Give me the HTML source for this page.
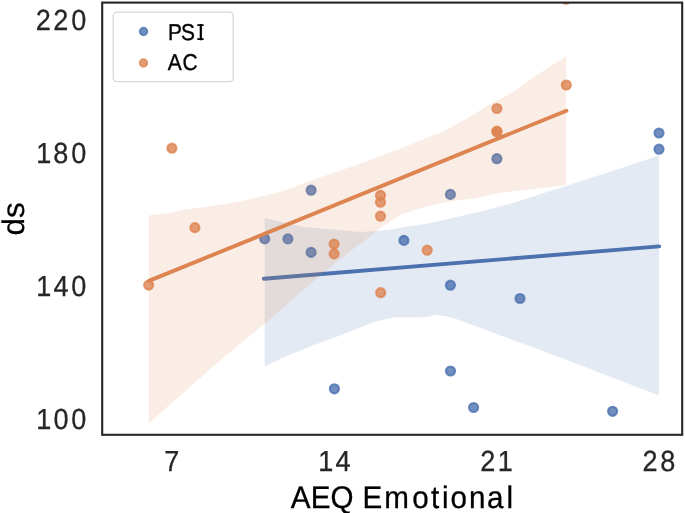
<!DOCTYPE html>
<html><head><meta charset="utf-8"><title>chart</title>
<style>
html,body{margin:0;padding:0;background:#fff;}
body{width:685px;height:513px;overflow:hidden;font-family:"Liberation Sans",sans-serif;}
svg{display:block;font-family:"Liberation Sans",sans-serif;will-change:transform;transform:translateZ(0);}
text{text-rendering:geometricPrecision;}
</style></head><body>
<svg width="685" height="513" viewBox="0 0 685 513">
<rect width="685" height="513" fill="#fff"/>
<defs><clipPath id="ax"><rect x="102.2" y="2.6" width="580" height="432.2"/></clipPath></defs>
<g clip-path="url(#ax)">
<circle cx="264.7" cy="238.9" r="4.55" fill="#4c72b0" fill-opacity=".8" stroke="#4c72b0" stroke-opacity=".8" stroke-width="2.1"/>
<circle cx="287.9" cy="238.9" r="4.55" fill="#4c72b0" fill-opacity=".8" stroke="#4c72b0" stroke-opacity=".8" stroke-width="2.1"/>
<circle cx="311.1" cy="190.2" r="4.55" fill="#4c72b0" fill-opacity=".8" stroke="#4c72b0" stroke-opacity=".8" stroke-width="2.1"/>
<circle cx="311.1" cy="252.4" r="4.55" fill="#4c72b0" fill-opacity=".8" stroke="#4c72b0" stroke-opacity=".8" stroke-width="2.1"/>
<circle cx="334.4" cy="388.8" r="4.55" fill="#4c72b0" fill-opacity=".8" stroke="#4c72b0" stroke-opacity=".8" stroke-width="2.1"/>
<circle cx="403.9" cy="240.4" r="4.55" fill="#4c72b0" fill-opacity=".8" stroke="#4c72b0" stroke-opacity=".8" stroke-width="2.1"/>
<circle cx="450.4" cy="194.4" r="4.55" fill="#4c72b0" fill-opacity=".8" stroke="#4c72b0" stroke-opacity=".8" stroke-width="2.1"/>
<circle cx="450.4" cy="285.2" r="4.55" fill="#4c72b0" fill-opacity=".8" stroke="#4c72b0" stroke-opacity=".8" stroke-width="2.1"/>
<circle cx="450.5" cy="371.0" r="4.55" fill="#4c72b0" fill-opacity=".8" stroke="#4c72b0" stroke-opacity=".8" stroke-width="2.1"/>
<circle cx="473.6" cy="407.5" r="4.55" fill="#4c72b0" fill-opacity=".8" stroke="#4c72b0" stroke-opacity=".8" stroke-width="2.1"/>
<circle cx="496.9" cy="158.7" r="4.55" fill="#4c72b0" fill-opacity=".8" stroke="#4c72b0" stroke-opacity=".8" stroke-width="2.1"/>
<circle cx="520.0" cy="298.5" r="4.55" fill="#4c72b0" fill-opacity=".8" stroke="#4c72b0" stroke-opacity=".8" stroke-width="2.1"/>
<circle cx="612.6" cy="411.3" r="4.55" fill="#4c72b0" fill-opacity=".8" stroke="#4c72b0" stroke-opacity=".8" stroke-width="2.1"/>
<circle cx="659.0" cy="133.0" r="4.55" fill="#4c72b0" fill-opacity=".8" stroke="#4c72b0" stroke-opacity=".8" stroke-width="2.1"/>
<circle cx="659.0" cy="149.2" r="4.55" fill="#4c72b0" fill-opacity=".8" stroke="#4c72b0" stroke-opacity=".8" stroke-width="2.1"/>
<line x1="263.8" y1="278.8" x2="659.2" y2="246.35" stroke="#4c72b0" stroke-width="3.9" stroke-linecap="round"/>
<polygon points="264.7,217.9 301.8,226.7 325.2,229.0 348.7,230.9 360.4,231.9 376.8,230.9 395.0,229.0 400.0,227.5 424.9,224.1 450.4,218.5 476.0,212.4 500.0,206.5 515.0,202.3 566.0,186.1 620.0,168.5 659.0,155.4 659.0,395.6 530.0,346.1 515.0,340.9 455.0,318.4 447.7,316.6 436.0,314.8 427.3,316.9 412.7,317.5 392.2,317.5 371.8,322.8 342.6,334.5 313.4,345.3 284.2,356.9 264.7,366.5" fill="#4c72b0" fill-opacity=".15"/>
<circle cx="148.7" cy="285.1" r="4.55" fill="#dd8452" fill-opacity=".8" stroke="#dd8452" stroke-opacity=".8" stroke-width="2.1"/>
<circle cx="171.9" cy="148.2" r="4.55" fill="#dd8452" fill-opacity=".8" stroke="#dd8452" stroke-opacity=".8" stroke-width="2.1"/>
<circle cx="194.9" cy="227.6" r="4.55" fill="#dd8452" fill-opacity=".8" stroke="#dd8452" stroke-opacity=".8" stroke-width="2.1"/>
<circle cx="334.1" cy="244.1" r="4.55" fill="#dd8452" fill-opacity=".8" stroke="#dd8452" stroke-opacity=".8" stroke-width="2.1"/>
<circle cx="334.1" cy="253.9" r="4.55" fill="#dd8452" fill-opacity=".8" stroke="#dd8452" stroke-opacity=".8" stroke-width="2.1"/>
<circle cx="380.5" cy="195.4" r="4.55" fill="#dd8452" fill-opacity=".8" stroke="#dd8452" stroke-opacity=".8" stroke-width="2.1"/>
<circle cx="380.5" cy="202.2" r="4.55" fill="#dd8452" fill-opacity=".8" stroke="#dd8452" stroke-opacity=".8" stroke-width="2.1"/>
<circle cx="380.5" cy="216.2" r="4.55" fill="#dd8452" fill-opacity=".8" stroke="#dd8452" stroke-opacity=".8" stroke-width="2.1"/>
<circle cx="380.7" cy="292.7" r="4.55" fill="#dd8452" fill-opacity=".8" stroke="#dd8452" stroke-opacity=".8" stroke-width="2.1"/>
<circle cx="427.2" cy="250.2" r="4.55" fill="#dd8452" fill-opacity=".8" stroke="#dd8452" stroke-opacity=".8" stroke-width="2.1"/>
<circle cx="496.9" cy="108.5" r="4.55" fill="#dd8452" fill-opacity=".8" stroke="#dd8452" stroke-opacity=".8" stroke-width="2.1"/>
<circle cx="496.9" cy="131.2" r="4.55" fill="#dd8452" fill-opacity=".8" stroke="#dd8452" stroke-opacity=".8" stroke-width="2.1"/>
<circle cx="496.9" cy="131.8" r="4.55" fill="#dd8452" fill-opacity=".8" stroke="#dd8452" stroke-opacity=".8" stroke-width="2.1"/>
<circle cx="566.3" cy="85.0" r="4.55" fill="#dd8452" fill-opacity=".8" stroke="#dd8452" stroke-opacity=".8" stroke-width="2.1"/>
<circle cx="566.2" cy="-0.8" r="4.55" fill="#dd8452" fill-opacity=".8" stroke="#dd8452" stroke-opacity=".8" stroke-width="2.1"/>
<line x1="149.0" y1="280.9" x2="566.4" y2="110.7" stroke="#dd8452" stroke-width="3.9" stroke-linecap="round"/>
<polygon points="148.7,215.6 170.7,212.7 180.9,210.2 201.3,207.6 221.8,204.5 242.2,201.0 262.6,196.3 280.0,191.9 309.9,181.1 359.9,163.7 409.8,144.9 420.0,140.6 443.4,131.2 466.8,118.4 490.2,104.3 513.6,91.5 537.0,75.1 560.4,59.9 566.2,56.0 566.2,185.3 515.0,191.1 500.0,193.1 476.0,198.1 450.4,201.4 424.9,206.7 400.0,215.0 395.0,218.3 376.5,231.0 372.0,234.9 348.7,252.5 325.2,271.2 301.8,291.1 278.4,312.2 265.5,323.2 225.8,355.6 182.9,393.2 148.7,423.2" fill="#dd8452" fill-opacity=".15"/>
</g>
<rect x="102.2" y="2.6" width="580" height="432.2" fill="none" stroke="#262626" stroke-width="2.1"/>
<!-- legend -->
<rect x="113.2" y="12.2" width="120.0" height="69.4" rx="3.5" ry="3.5" fill="#fff" fill-opacity=".8" stroke="#cccccc" stroke-opacity=".8" stroke-width="1.25"/>
<circle cx="143.5" cy="31.5" r="3.85" fill="#4c72b0" fill-opacity=".8" stroke="#4c72b0" stroke-opacity=".8" stroke-width="1.7"/>
<circle cx="143.5" cy="63.0" r="3.85" fill="#dd8452" fill-opacity=".8" stroke="#dd8452" stroke-opacity=".8" stroke-width="1.7"/>
<text id="y220" fill="#262626" stroke="#262626" stroke-width=".3" font-size="29.0" transform="translate(0,29.9) scale(0.9331,1)" x="38.23 57.20 76.44" y="0">220</text>
<text id="y180" fill="#262626" stroke="#262626" stroke-width=".3" font-size="29.0" transform="translate(0,163.1) scale(0.9331,1)" x="38.96 57.15 76.44" y="0">180</text>
<text id="y140" fill="#262626" stroke="#262626" stroke-width=".3" font-size="29.0" transform="translate(0,296.1) scale(0.9331,1)" x="38.96 57.29 76.44" y="0">140</text>
<text id="y100" fill="#262626" stroke="#262626" stroke-width=".3" font-size="29.0" transform="translate(0,429.1) scale(0.9331,1)" x="38.96 57.41 76.44" y="0">100</text>
<text id="x7" fill="#262626" stroke="#262626" stroke-width=".3" font-size="29.0" transform="translate(0,471.0) scale(0.9331,1)" x="175.98" y="0">7</text>
<text id="x14" fill="#262626" stroke="#262626" stroke-width=".3" font-size="29.0" transform="translate(0,471.0) scale(0.9331,1)" x="340.95 359.45" y="0">14</text>
<text id="x21" fill="#262626" stroke="#262626" stroke-width=".3" font-size="29.0" transform="translate(0,471.0) scale(0.9331,1)" x="514.80 533.53" y="0">21</text>
<text id="x28" fill="#262626" stroke="#262626" stroke-width=".3" font-size="29.0" transform="translate(0,471.0) scale(0.9331,1)" x="688.57 707.70" y="0">28</text>
<text id="xl" fill="#000" stroke="#000" stroke-width=".3" font-size="31.2" transform="translate(0,507.6) scale(0.9488,1)" x="306.54 327.48 348.35 372.62 382.13 405.02 434.49 454.36 465.90 474.85 494.38 513.35 533.71" y="0">AEQ Emotional</text>
<text id="psi" fill="#000" stroke="#000" stroke-width=".35" font-size="22.9" transform="translate(0,39.8) scale(0.9131,1)" x="184.07 198.37 216.73" y="0">PSI</text>
<text id="ac" fill="#000" stroke="#000" stroke-width=".35" font-size="22.9" transform="translate(0,69.7) scale(0.9165,1)" x="183.08 199.10" y="0">AC</text>
<text id="yl" fill="#000" stroke="#000" stroke-width=".25" font-size="31" transform="translate(23.8,235.4) rotate(-90)" x="0" y="0" textLength="33.2" lengthAdjust="spacingAndGlyphs">ds</text>
<path d="M197.3 24.2h6.3v1.8h-6.3zM197.3 38.2h6.3v1.8h-6.3z" fill="#000"/>
</svg>
</body></html>
